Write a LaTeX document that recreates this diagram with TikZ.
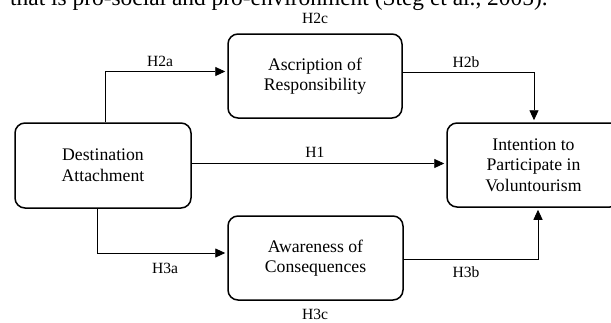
\documentclass[tikz,border=0pt]{standalone}
\usepackage{fontspec}
\setmainfont{Liberation Serif}
\usetikzlibrary{arrows.meta,calc}
\begin{document}
\begin{tikzpicture}[x=1pt,y=-1pt,
 box/.style={draw, line width=1.5pt, rounded corners=10pt, align=center,
   font=\fontsize{17.7}{20.6}\selectfont, inner sep=0pt},
 lbl/.style={font=\fontsize{15.6}{18}\selectfont, inner sep=0pt},
 conn/.style={line width=0.9pt, -{Triangle[length=10pt,width=9pt]}, shorten >=2pt},
 ]
\useasboundingbox (0,0) rectangle (611,322);
\clip (0,0) rectangle (611,322);
\node[anchor=base west, inner sep=0pt, font=\fontsize{23.4}{28}\selectfont] (top) at (10,5)
  {that is pro-social and pro-environment (Steg et al., 2005).};

\node[box, minimum width=176pt, minimum height=85pt] (dest) at (103,165.5) {Destination\\Attachment};
\node[box, minimum width=174pt, minimum height=84pt] (ascr) at (315,76) {Ascription of\\Responsibility};
\node[box, minimum width=175pt, minimum height=84pt] (aware) at (315.5,258) {Awareness of\\Consequences};
\node[box, minimum width=173pt, minimum height=84pt] (intent) at (533.5,165) {Intention to\\Participate in\\Voluntourism};

\coordinate (a1) at (105,71.5);
\coordinate (b1) at (534,72);
\coordinate (c1) at (0,163.5);
\coordinate (d1) at (97.7,253);
\coordinate (e1) at (538,259.3);

\draw[conn] (dest.north -| a1) |- (ascr.west |- a1);
\draw[conn] (ascr.east |- b1) -| (intent.north -| b1);
\draw[conn] (dest.east |- c1) -- (intent.west |- c1);
\draw[conn] (dest.south -| d1) |- (aware.west |- d1);
\draw[conn] (aware.east |- e1) -| (intent.south -| e1);

\node[lbl] (h2c) at (315,18.5) {H2c};
\node[lbl] (h2a) at (160,61) {H2a};
\node[lbl] (h2b) at (466,61.7) {H2b};
\node[lbl] (h1) at (315,152) {H1};
\node[lbl] (h3a) at (165,268) {H3a};
\node[lbl] (h3b) at (466,272) {H3b};
\node[lbl] (h3c) at (315,314) {H3c};
\end{tikzpicture}
\end{document}
